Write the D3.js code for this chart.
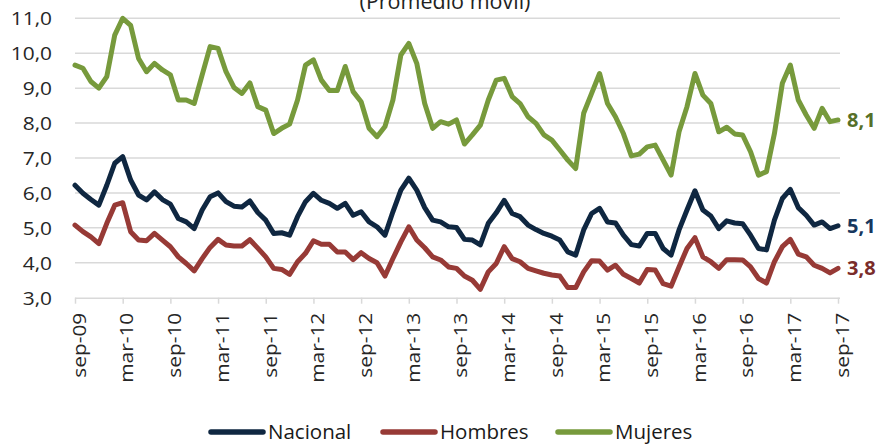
<!DOCTYPE html>
<html>
<head>
<meta charset="utf-8">
<script src="https://cdn.jsdelivr.net/npm/d3@7"></script>
<style>
  body { margin: 0; background: #fff; }
  svg text { font-family: "Open Sans", sans-serif; }
</style>
</head>
<body>
<div id="chart"></div>
<script>
const tickLabels = ["sep-09","mar-10","sep-10","mar-11","sep-11","mar-12","sep-12","mar-13","sep-13",
                    "mar-14","sep-14","mar-15","sep-15","mar-16","sep-16","mar-17","sep-17"];

const nacional = [6.22,5.99,5.81,5.65,6.22,6.85,7.04,6.37,5.94,5.80,6.03,5.81,5.68,5.27,5.17,4.98,5.51,5.89,6.00,5.75,
  5.62,5.60,5.77,5.44,5.22,4.84,4.86,4.79,5.32,5.75,5.99,5.79,5.70,5.56,5.70,5.36,5.46,5.17,5.03,4.79,
  5.46,6.08,6.42,6.08,5.58,5.22,5.17,5.03,5.01,4.67,4.65,4.51,5.13,5.43,5.79,5.41,5.32,5.08,4.95,4.84,
  4.76,4.65,4.31,4.22,4.94,5.41,5.56,5.17,5.14,4.79,4.52,4.48,4.84,4.84,4.41,4.22,4.94,5.51,6.06,5.51,
  5.34,4.98,5.20,5.14,5.12,4.79,4.41,4.37,5.22,5.84,6.10,5.58,5.36,5.08,5.17,4.98,5.06];

const hombres = [5.08,4.89,4.74,4.55,5.13,5.65,5.72,4.89,4.65,4.63,4.84,4.65,4.46,4.17,3.98,3.77,4.12,4.44,4.67,4.51,
  4.48,4.48,4.66,4.42,4.17,3.84,3.81,3.67,4.03,4.27,4.63,4.53,4.53,4.31,4.31,4.09,4.29,4.12,4.00,3.62,
  4.12,4.60,5.03,4.65,4.43,4.17,4.08,3.88,3.84,3.62,3.50,3.24,3.74,3.98,4.46,4.12,4.03,3.84,3.77,3.70,
  3.65,3.62,3.29,3.29,3.74,4.06,4.05,3.79,3.93,3.67,3.55,3.42,3.81,3.79,3.40,3.33,3.88,4.41,4.72,4.17,
  4.03,3.84,4.09,4.09,4.08,3.88,3.55,3.42,4.03,4.46,4.67,4.25,4.17,3.93,3.84,3.71,3.84];

const mujeres = [9.66,9.57,9.19,9.00,9.33,10.52,11.0,10.8,9.85,9.47,9.71,9.52,9.38,8.66,8.66,8.56,9.38,10.19,10.14,9.47,
  9.02,8.85,9.15,8.47,8.37,7.70,7.85,7.97,8.66,9.66,9.81,9.23,8.93,8.93,9.62,8.90,8.61,7.85,7.61,7.90,
  8.66,9.95,10.28,9.71,8.56,7.85,8.04,7.97,8.09,7.40,7.66,7.94,8.66,9.23,9.28,8.76,8.56,8.18,7.99,7.66,
  7.51,7.23,6.94,6.70,8.28,8.85,9.42,8.56,8.18,7.70,7.06,7.11,7.32,7.37,6.94,6.51,7.75,8.47,9.42,8.80,
  8.56,7.75,7.88,7.69,7.66,7.18,6.51,6.61,7.70,9.14,9.66,8.66,8.23,7.85,8.42,8.04,8.09];

const seriesNames = ["Nacional","Hombres","Mujeres"];
const lastLabels = ["5,1","3,8","8,1"];

const series = [
  {name: seriesNames[0], values: nacional, color: "#0f2741", label: lastLabels[0], labelColor: "#17375e"},
  {name: seriesNames[1], values: hombres, color: "#973a36", label: lastLabels[1], labelColor: "#7a2c2a"},
  {name: seriesNames[2], values: mujeres, color: "#779a3c", label: lastLabels[2], labelColor: "#567028"}
];

const width = 879, height = 444;
const plotLeft = 75, plotRight = 838, plotTop = 18.3, plotBottom = 297.7;

const svg = d3.select("#chart").append("svg")
  .attr("width", width).attr("height", height);

const x = d3.scaleLinear().domain([0, nacional.length - 1]).range([plotLeft, plotRight]);
const y = d3.scaleLinear().domain([3, 11]).range([plotBottom, plotTop]);

const fmt = d => d3.format(".1f")(d).replace(".", ",");

// title, cut at the top like the source
svg.append("text")
  .attr("x", 445).attr("y", 9)
  .attr("text-anchor", "middle")
  .attr("font-size", 21.5)
  .attr("fill", "#222")
  .text("(Promedio móvil)");

// gridlines
svg.append("g")
  .selectAll("line")
  .data(d3.range(4, 12))
  .enter().append("line")
  .attr("x1", plotLeft).attr("x2", plotRight + 2)
  .attr("y1", d => y(d)).attr("y2", d => y(d))
  .attr("stroke", "#d9d9d9").attr("stroke-width", 1.5);

// y axis
const yAxis = svg.append("g")
  .attr("transform", `translate(${plotLeft - 23},0)`)
  .call(d3.axisLeft(y).tickValues(d3.range(3, 12)).tickFormat(fmt).tickSize(0));
yAxis.select(".domain").remove();
yAxis.selectAll("text")
  .attr("font-size", 19)
  .attr("fill", "#262626")
  .attr("x", 0)
  .attr("dy", "0.35em")
  .attr("transform", "scale(1.1,1)")
  .style("font-family", "Open Sans");

// x axis
const xAxis = svg.append("g")
  .attr("transform", `translate(0,${plotBottom})`)
  .call(d3.axisBottom(x)
    .tickValues(d3.range(0, nacional.length, 6))
    .tickFormat((d, i) => tickLabels[i])
    .tickSize(6).tickSizeOuter(0));
xAxis.select(".domain")
  .attr("stroke", "#d9d9d9").attr("stroke-width", 1.5)
  .attr("d", `M${plotLeft},0.5H${plotRight + 2}`);
xAxis.selectAll(".tick line").attr("stroke", "#d9d9d9").attr("stroke-width", 1.5);
xAxis.selectAll(".tick text")
  .attr("font-size", 18)
  .attr("fill", "#262626")
  .attr("text-anchor", "end")
  .attr("transform", "translate(4,15) rotate(-90) scale(1.16,1)")
  .attr("x", 0).attr("y", 0)
  .attr("dy", "0.35em")
  .style("font-family", "Open Sans");

// lines
const line = d3.line()
  .x((d, i) => x(i))
  .y(d => y(d));

svg.append("g")
  .selectAll("path")
  .data(series)
  .enter().append("path")
  .attr("d", d => line(d.values))
  .attr("fill", "none")
  .attr("stroke", d => d.color)
  .attr("stroke-width", 5)
  .attr("stroke-linejoin", "round")
  .attr("stroke-linecap", "round");

// end labels
svg.append("g")
  .selectAll("text")
  .data(series)
  .enter().append("text")
  .attr("x", plotRight + 9)
  .attr("y", d => y(d.values[d.values.length - 1]))
  .attr("dy", "0.35em")
  .attr("font-size", 20)
  .attr("font-weight", "bold")
  .attr("fill", d => d.labelColor)
  .text(d => d.label);

// legend
const legendPos = [208, 380, 555];
const legend = svg.append("g")
  .selectAll("g")
  .data(series)
  .enter().append("g")
  .attr("transform", (d, i) => `translate(${legendPos[i]},432)`);
legend.append("line")
  .attr("x1", 3).attr("x2", 55)
  .attr("y1", 0).attr("y2", 0)
  .attr("stroke", d => d.color)
  .attr("stroke-width", 5.5)
  .attr("stroke-linecap", "round");
legend.append("text")
  .attr("x", 60)
  .attr("dy", "0.36em")
  .attr("font-size", 20.5)
  .attr("fill", "#1a1a1a")
  .text(d => d.name);
</script>
</body>
</html>
